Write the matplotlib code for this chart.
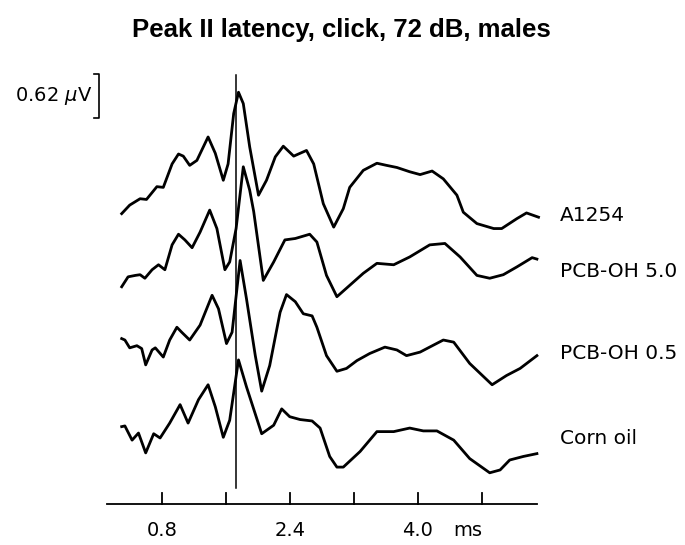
import matplotlib.pyplot as plt

# ABR waveforms, time in ms, amplitude in uV (relative to trace start)
t_a1254 = [0.30, 0.40, 0.53, 0.61, 0.74, 0.82, 0.93, 1.01, 1.07, 1.15, 1.24, 1.38, 1.47, 1.57,
           1.63, 1.70, 1.76, 1.82, 1.90, 2.01, 2.11, 2.22, 2.32, 2.45, 2.61, 2.70, 2.82, 2.95,
           3.07, 3.15, 3.32, 3.49, 3.61, 3.74, 3.90, 4.03, 4.18, 4.32, 4.49, 4.57, 4.74, 4.95,
           5.05, 5.24, 5.36, 5.51]
v_a1254 = [0.00, 0.12, 0.21, 0.20, 0.38, 0.37, 0.70, 0.84, 0.81, 0.68, 0.75, 1.08, 0.85, 0.47,
           0.70, 1.41, 1.71, 1.55, 0.94, 0.26, 0.47, 0.80, 0.95, 0.81, 0.89, 0.70, 0.14, -0.19,
           0.07, 0.37, 0.61, 0.71, 0.68, 0.65, 0.59, 0.55, 0.60, 0.49, 0.26, 0.02, -0.14, -0.21,
           -0.21, -0.07, 0.01, -0.05]

t_pcb50 = [0.30, 0.38, 0.47, 0.53, 0.59, 0.68, 0.76, 0.84, 0.93, 1.01, 1.09, 1.18, 1.28, 1.40,
           1.49, 1.59, 1.65, 1.73, 1.82, 1.90, 1.95, 2.07, 2.20, 2.34, 2.47, 2.65, 2.74, 2.86,
           2.99, 3.15, 3.32, 3.49, 3.70, 3.90, 4.15, 4.34, 4.53, 4.74, 4.90, 5.07, 5.24, 5.43,
           5.49]
v_pcb50 = [0.00, 0.14, 0.16, 0.17, 0.12, 0.24, 0.31, 0.24, 0.59, 0.74, 0.66, 0.55, 0.77, 1.08,
           0.82, 0.24, 0.35, 0.82, 1.69, 1.36, 1.06, 0.09, 0.35, 0.66, 0.68, 0.74, 0.63, 0.16,
           -0.14, 0.02, 0.19, 0.33, 0.31, 0.42, 0.59, 0.61, 0.42, 0.16, 0.12, 0.17, 0.28, 0.41,
           0.39]

t_pcb05 = [0.30, 0.34, 0.40, 0.49, 0.55, 0.60, 0.68, 0.72, 0.82, 0.90, 0.99, 1.05, 1.15, 1.28,
           1.43, 1.51, 1.61, 1.68, 1.78, 1.86, 1.97, 2.05, 2.15, 2.28, 2.36, 2.47, 2.57, 2.68,
           2.74, 2.86, 2.99, 3.11, 3.24, 3.40, 3.59, 3.74, 3.86, 4.03, 4.20, 4.32, 4.45, 4.65,
           4.93, 5.11, 5.28, 5.49]
v_pcb05 = [0.00, -0.02, -0.13, -0.10, -0.14, -0.37, -0.16, -0.13, -0.26, -0.02, 0.16, 0.09,
           -0.02, 0.19, 0.61, 0.42, -0.07, 0.09, 1.10, 0.56, -0.24, -0.74, -0.38, 0.37, 0.62,
           0.52, 0.35, 0.32, 0.16, -0.24, -0.46, -0.42, -0.31, -0.21, -0.12, -0.16, -0.24,
           -0.19, -0.09, -0.02, -0.05, -0.35, -0.65, -0.52, -0.42, -0.24]

t_corn = [0.30, 0.34, 0.43, 0.51, 0.60, 0.70, 0.78, 0.90, 1.03, 1.13, 1.26, 1.38, 1.47, 1.57,
          1.65, 1.76, 1.86, 2.05, 2.20, 2.30, 2.40, 2.53, 2.68, 2.78, 2.90, 2.99, 3.07, 3.28,
          3.49, 3.70, 3.90, 4.07, 4.24, 4.45, 4.65, 4.90, 5.03, 5.15, 5.32, 5.49]
v_corn = [0.00, 0.01, -0.19, -0.09, -0.37, -0.10, -0.16, 0.05, 0.31, 0.05, 0.38, 0.59, 0.28,
          -0.15, 0.09, 0.94, 0.56, -0.10, 0.02, 0.25, 0.14, 0.10, 0.08, -0.02, -0.42, -0.57,
          -0.57, -0.35, -0.07, -0.07, -0.02, -0.06, -0.06, -0.19, -0.45, -0.65, -0.61, -0.47,
          -0.42, -0.38]

labels = ["A1254", "PCB-OH 5.0", "PCB-OH 0.5", "Corn oil"]
tick_values = [0.8, 1.6, 2.4, 3.2, 4.0, 4.8]
tick_labels = ["0.8", "", "2.4", "", "4.0", ""]
peak2_latency = 1.73
scale_uv = 0.62

traces = [(t_a1254, v_a1254), (t_pcb50, v_pcb50), (t_pcb05, v_pcb05), (t_corn, v_corn)]
offsets = [4.09, 3.06, 2.33, 1.09]
label_y = [4.07, 3.27, 2.12, 0.93]

fig = plt.figure(figsize=(6.85, 5.45), dpi=100)
ax = fig.add_axes([0, 0, 1, 1])
ax.set_xlim(-1.221, 7.341)
ax.set_ylim(-0.577, 7.099)
ax.axis('off')

for (t, v), off, lab, ly in zip(traces, offsets, labels, label_y):
    ax.plot(t, [a + off for a in v], color='black', lw=2.0, solid_joinstyle='round')
    ax.text(5.78, ly, lab, fontsize=14.5, ha='left', va='center', family='DejaVu Sans')

# peak II marker
ax.plot([peak2_latency, peak2_latency], [0.23, 6.04], color='black', lw=1.1)

# time axis
ax.plot([0.12, 5.49], [0, 0], color='black', lw=1.3)
for tv, tl in zip(tick_values, tick_labels):
    ax.plot([tv, tv], [0, 0.155], color='black', lw=1.3)
    if tl:
        ax.text(tv, -0.37, tl, fontsize=14, ha='center', va='center', family='DejaVu Sans')
ax.text(4.62, -0.37, "ms", fontsize=14, ha='center', va='center', family='DejaVu Sans')

# amplitude scale bar
top, bot = 6.06, 6.06 - scale_uv
ax.plot([-0.045, 0.016, 0.016, -0.045], [top, top, bot, bot], color='black', lw=1.2)
ax.text(-0.07, (top + bot) / 2, r"0.62 $\mu$V", fontsize=14, ha='right', va='center',
        family='DejaVu Sans')

ax.text(3.05, 6.68, "Peak II latency, click, 72 dB, males", fontsize=18.5, ha='center',
        va='center', fontweight='bold', family='Liberation Sans')

fig.savefig("out.png", dpi=100)
